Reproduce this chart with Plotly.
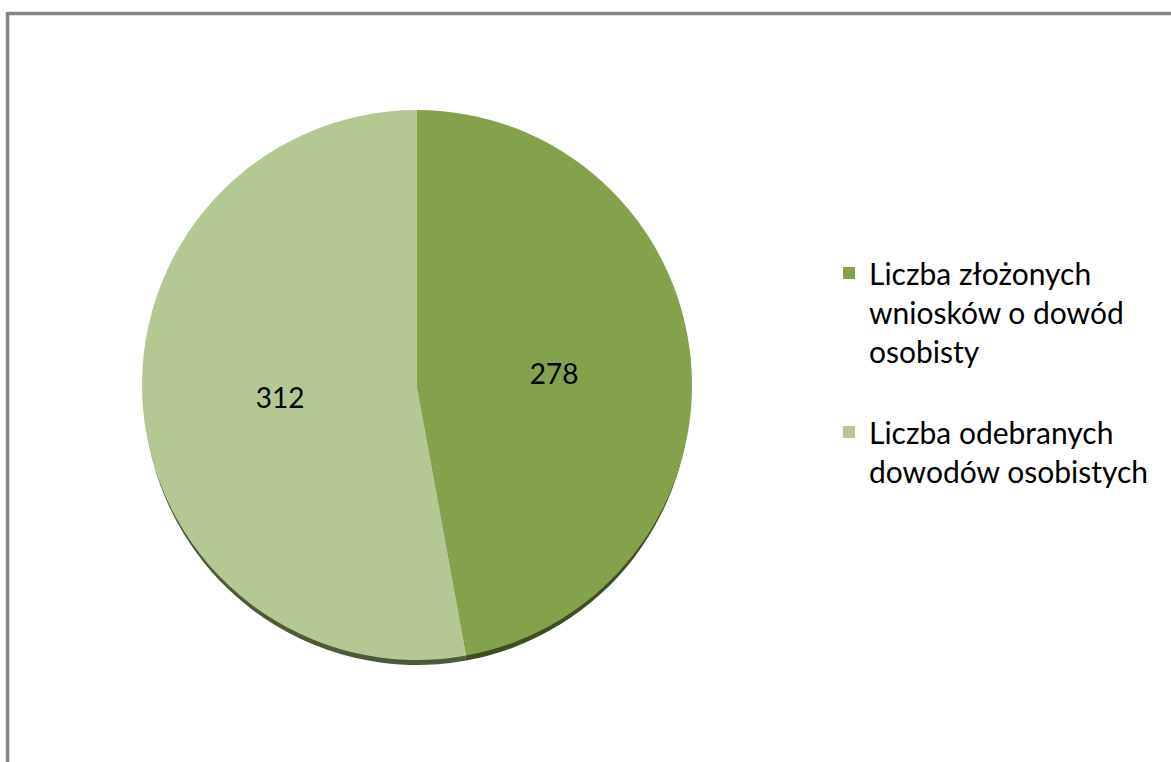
import plotly.graph_objects as go

labels = ["Liczba złożonych<br>wniosków o dowód<br>osobisty<br>", "Liczba odebranych<br>dowodów osobistych"]
values = [278, 312]
colors = ["#84a24c", "#b3c893"]
shadow_colors = ["#3e4d22", "#4c5a3a"]

W, H = 1171, 762
cx, cy, r = 417, 385, 275
shadow_dy = 7

def dom(cx, cy, r):
    return dict(x=[(cx - r) / W, (cx + r) / W], y=[1 - (cy + r) / H, 1 - (cy - r) / H])

fig = go.Figure()
fig.add_trace(go.Pie(
    labels=labels, values=values, sort=False, direction="clockwise", rotation=0,
    marker=dict(colors=shadow_colors, line=dict(width=0)),
    textinfo="none", hoverinfo="skip", showlegend=False,
    domain=dom(cx, cy + shadow_dy, r - 2),
))
fig.add_trace(go.Pie(
    labels=labels, values=values, sort=False, direction="clockwise", rotation=0,
    marker=dict(colors=colors, line=dict(width=0)),
    textinfo="value", textposition="inside", insidetextorientation="horizontal",
    textfont=dict(family="Lato", size=28, color="#000000"),
    domain=dom(cx, cy, r),
))

fig.update_layout(
    width=W, height=H,
    margin=dict(l=0, r=0, t=0, b=0),
    paper_bgcolor="white", plot_bgcolor="white",
    font=dict(family="Lato", color="#000000"),
    legend=dict(x=829 / W, y=1 - 247 / H, xanchor="left", yanchor="top", valign="top",
                font=dict(family="Lato", size=30, color="#000000")),
    shapes=[
        dict(type="line", xref="paper", yref="paper", x0=7.5 / W, x1=1.02, y0=1 - 13.5 / H, y1=1 - 13.5 / H,
             line=dict(color="#858585", width=3.5)),
        dict(type="line", xref="paper", yref="paper", x0=7.5 / W, x1=7.5 / W, y0=-0.02, y1=1 - 12 / H,
             line=dict(color="#858585", width=3.5)),
    ],
)

fig.write_html("out.html", config={"displayModeBar": False},
               post_script="document.body.style.margin='0';")
